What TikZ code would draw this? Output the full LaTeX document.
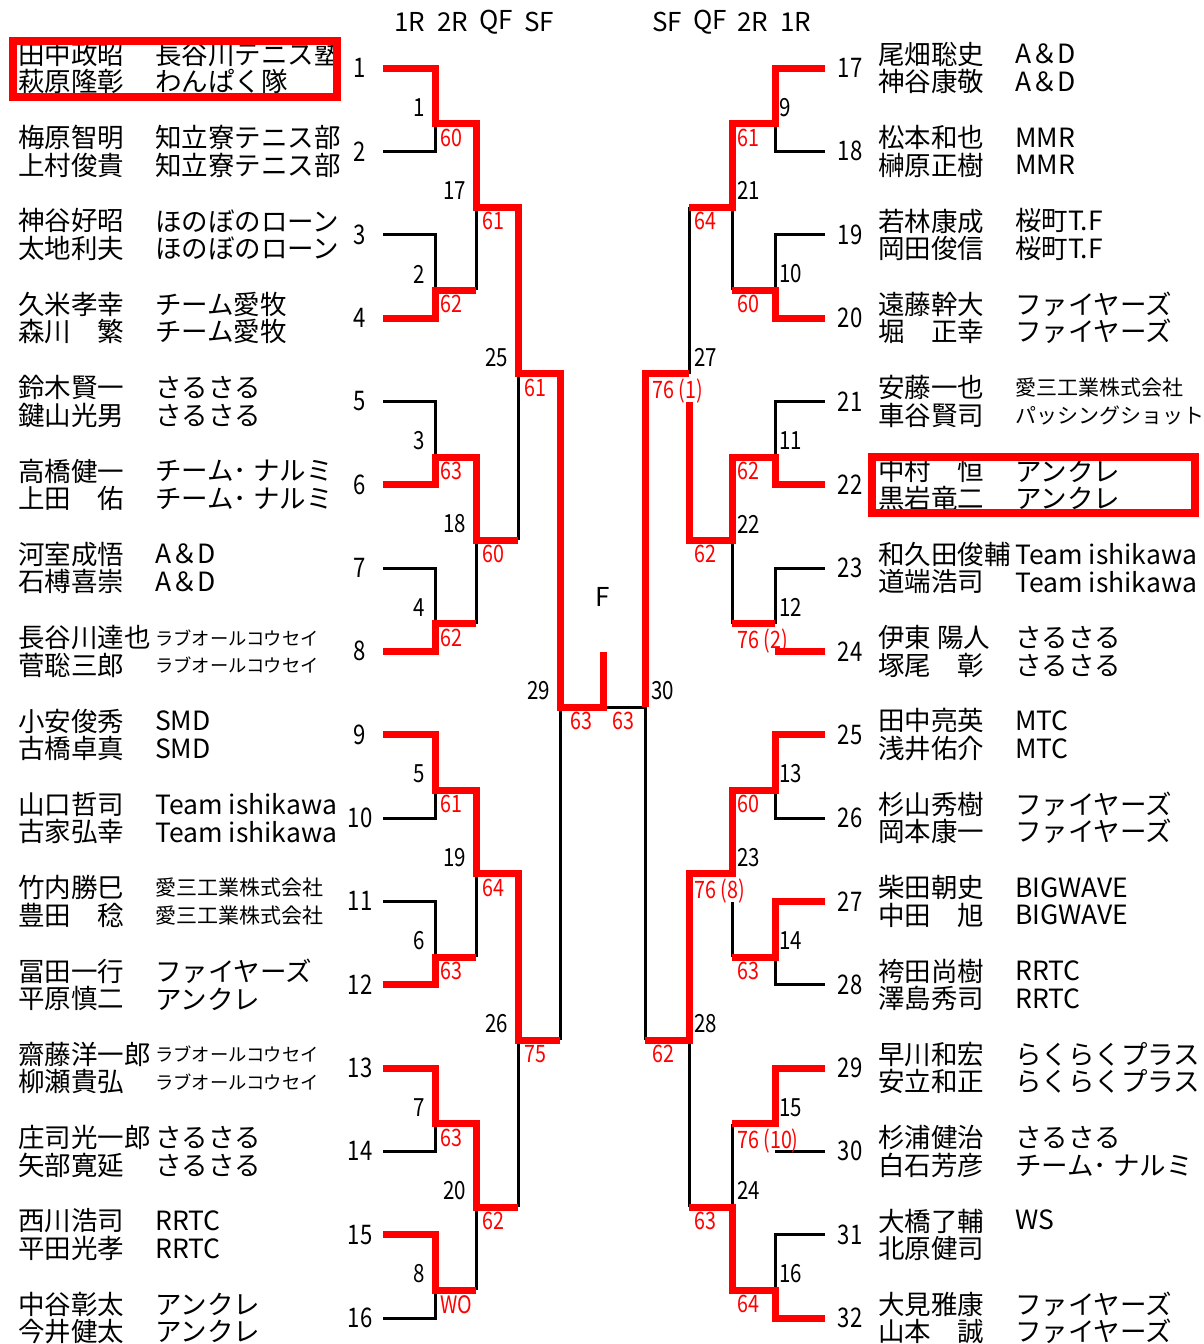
\documentclass[tikz,border=0pt]{standalone}
\usepackage{fontspec}
\setmainfont{Noto Sans CJK JP}
\newfontfamily\numfont[FakeStretch=0.82]{Noto Sans CJK JP}

\begin{document}
\begin{tikzpicture}[x=1pt, y=-1pt,
  win/.style={draw=red, line width=7pt},
  lose/.style={draw=black, line width=3pt},
  winbox/.style={draw=red, line width=7.5pt},
  pair/.style={anchor=west, align=left, inner sep=0pt,
    font=\fontsize{26.5}{27.5}\selectfont},
  midclub/.style={font=\fontsize{21}{27.5}\selectfont},
  smallclub/.style={font=\fontsize{18.3}{27.5}\selectfont},
  seed/.style={inner sep=0pt, font=\numfont\fontsize{27}{27}\selectfont},
  lmatch/.style={anchor=south east, inner sep=0pt,
    font=\numfont\fontsize{25}{25}\selectfont},
  rmatch/.style={anchor=south west, inner sep=0pt,
    font=\numfont\fontsize{25}{25}\selectfont},
  score/.style={anchor=north west, inner sep=0pt, text=red,
    font=\numfont\fontsize{24}{24}\selectfont},
  head/.style={inner sep=0pt, font=\fontsize{26}{26}\selectfont}]
  \useasboundingbox (0,0) rectangle (1203,1344);

  % round headings
  \node [head] (H1) at (410,22) {1R};
  \node [head, right of = H1, node distance = 43pt] (H2) {2R};
  \node [head, right of = H2, node distance = 43pt] (H3) {QF};
  \node [head, right of = H3, node distance = 43pt] (H4) {SF};
  \node [head] (H5) at (667,22) {SF};
  \node [head, right of = H5, node distance = 43pt] (H6) {QF};
  \node [head, right of = H6, node distance = 43pt] (H7) {2R};
  \node [head, right of = H7, node distance = 43pt] (H8) {1R};
  \node [head] (F) at (603,597) {F};

  % left half
  \node [pair] (N1) at (18,68) {田中政昭\\萩原隆彰};
  \node [pair] (C1) at (155,68) {長谷川テニス塾\\わんぱく隊};
  \node [seed] (S1) at (360,68) {1};
  \node [pair] (N2) at (18,151.3) {梅原智明\\上村俊貴};
  \node [pair] (C2) at (155,151.3) {知立寮テニス部\\知立寮テニス部};
  \node [seed] (S2) at (360,151.3) {2};
  \node [pair] (N3) at (18,234.7) {神谷好昭\\太地利夫};
  \node [pair] (C3) at (155,234.7) {ほのぼのローン\\ほのぼのローン};
  \node [seed] (S3) at (360,234.7) {3};
  \node [pair] (N4) at (18,318) {久米孝幸\\森川　繁};
  \node [pair] (C4) at (155,318) {チーム愛牧\\チーム愛牧};
  \node [seed] (S4) at (360,318) {4};
  \node [pair] (N5) at (18,401.3) {鈴木賢一\\鍵山光男};
  \node [pair] (C5) at (155,401.3) {さるさる\\さるさる};
  \node [seed] (S5) at (360,401.3) {5};
  \node [pair] (N6) at (18,484.7) {高橋健一\\上田　佑};
  \node [pair] (C6) at (155,484.7) {チーム･ ナルミ\\チーム･ ナルミ};
  \node [seed] (S6) at (360,484.7) {6};
  \node [pair] (N7) at (18,568) {河室成悟\\石榑喜崇};
  \node [pair] (C7) at (155,568) {A＆D\\A＆D};
  \node [seed] (S7) at (360,568) {7};
  \node [pair] (N8) at (18,651.3) {長谷川達也\\菅聡三郎};
  \node [pair, smallclub] (C8) at (155,651.3) {ラブオールコウセイ\\ラブオールコウセイ};
  \node [seed] (S8) at (360,651.3) {8};
  \node [pair] (N9) at (18,734.7) {小安俊秀\\古橋卓真};
  \node [pair] (C9) at (155,734.7) {SMD\\SMD};
  \node [seed] (S9) at (360,734.7) {9};
  \node [pair] (N10) at (18,818) {山口哲司\\古家弘幸};
  \node [pair] (C10) at (155,818) {Team ishikawa\\Team ishikawa};
  \node [seed] (S10) at (360,818) {10};
  \node [pair] (N11) at (18,901.3) {竹内勝巳\\豊田　稔};
  \node [pair, midclub] (C11) at (155,901.3) {愛三工業株式会社\\愛三工業株式会社};
  \node [seed] (S11) at (360,901.3) {11};
  \node [pair] (N12) at (18,984.7) {冨田一行\\平原慎二};
  \node [pair] (C12) at (155,984.7) {ファイヤーズ\\アンクレ};
  \node [seed] (S12) at (360,984.7) {12};
  \node [pair] (N13) at (18,1068) {齋藤洋一郎\\柳瀬貴弘};
  \node [pair, smallclub] (C13) at (155,1068) {ラブオールコウセイ\\ラブオールコウセイ};
  \node [seed] (S13) at (360,1068) {13};
  \node [pair] (N14) at (18,1151.3) {庄司光一郎\\矢部寛延};
  \node [pair] (C14) at (155,1151.3) {さるさる\\さるさる};
  \node [seed] (S14) at (360,1151.3) {14};
  \node [pair] (N15) at (18,1234.7) {西川浩司\\平田光孝};
  \node [pair] (C15) at (155,1234.7) {RRTC\\RRTC};
  \node [seed] (S15) at (360,1234.7) {15};
  \node [pair] (N16) at (18,1318) {中谷彰太\\今井健太};
  \node [pair] (C16) at (155,1318) {アンクレ\\アンクレ};
  \node [seed] (S16) at (360,1318) {16};

  % right half
  \node [pair] (N17) at (878,68) {尾畑聡史\\神谷康敬};
  \node [pair] (C17) at (1015,68) {A＆D\\A＆D};
  \node [seed] (S17) at (850,68) {17};
  \node [pair] (N18) at (878,151.3) {松本和也\\榊原正樹};
  \node [pair] (C18) at (1015,151.3) {MMR\\MMR};
  \node [seed] (S18) at (850,151.3) {18};
  \node [pair] (N19) at (878,234.7) {若林康成\\岡田俊信};
  \node [pair] (C19) at (1015,234.7) {桜町T.F\\桜町T.F};
  \node [seed] (S19) at (850,234.7) {19};
  \node [pair] (N20) at (878,318) {遠藤幹大\\堀　正幸};
  \node [pair] (C20) at (1015,318) {ファイヤーズ\\ファイヤーズ};
  \node [seed] (S20) at (850,318) {20};
  \node [pair] (N21) at (878,401.3) {安藤一也\\車谷賢司};
  \node [pair, midclub] (C21) at (1015,401.3) {愛三工業株式会社\\パッシングショット};
  \node [seed] (S21) at (850,401.3) {21};
  \node [pair] (N22) at (878,484.7) {中村　恒\\黒岩竜二};
  \node [pair] (C22) at (1015,484.7) {アンクレ\\アンクレ};
  \node [seed] (S22) at (850,484.7) {22};
  \node [pair] (N23) at (878,568) {和久田俊輔\\道端浩司};
  \node [pair] (C23) at (1015,568) {Team ishikawa\\Team ishikawa};
  \node [seed] (S23) at (850,568) {23};
  \node [pair] (N24) at (878,651.3) {伊東 陽人\\塚尾　彰};
  \node [pair] (C24) at (1015,651.3) {さるさる\\さるさる};
  \node [seed] (S24) at (850,651.3) {24};
  \node [pair] (N25) at (878,734.7) {田中亮英\\浅井佑介};
  \node [pair] (C25) at (1015,734.7) {MTC\\MTC};
  \node [seed] (S25) at (850,734.7) {25};
  \node [pair] (N26) at (878,818) {杉山秀樹\\岡本康一};
  \node [pair] (C26) at (1015,818) {ファイヤーズ\\ファイヤーズ};
  \node [seed] (S26) at (850,818) {26};
  \node [pair] (N27) at (878,901.3) {柴田朝史\\中田　旭};
  \node [pair] (C27) at (1015,901.3) {BIGWAVE\\BIGWAVE};
  \node [seed] (S27) at (850,901.3) {27};
  \node [pair] (N28) at (878,984.7) {袴田尚樹\\澤島秀司};
  \node [pair] (C28) at (1015,984.7) {RRTC\\RRTC};
  \node [seed] (S28) at (850,984.7) {28};
  \node [pair] (N29) at (878,1068) {早川和宏\\安立和正};
  \node [pair] (C29) at (1015,1068) {らくらくプラス\\らくらくプラス};
  \node [seed] (S29) at (850,1068) {29};
  \node [pair] (N30) at (878,1151.3) {杉浦健治\\白石芳彦};
  \node [pair] (C30) at (1015,1151.3) {さるさる\\チーム･ ナルミ};
  \node [seed] (S30) at (850,1151.3) {30};
  \node [pair] (N31) at (878,1234.7) {大橋了輔\\北原健司};
  \node [pair] (C31) at (1015,1234.7) {WS\\\phantom{北}};
  \node [seed] (S31) at (850,1234.7) {31};
  \node [pair] (N32) at (878,1318) {大見雅康\\山本　誠};
  \node [pair] (C32) at (1015,1318) {ファイヤーズ\\ファイヤーズ};
  \node [seed] (S32) at (850,1318) {32};

  % line ends of the draw
  \coordinate (e1) at (383,68);      \coordinate (e17) at (825,68);
  \coordinate (e2) at (383,151.3);   \coordinate (e18) at (825,151.3);
  \coordinate (e3) at (383,234.7);   \coordinate (e19) at (825,234.7);
  \coordinate (e4) at (383,318);     \coordinate (e20) at (825,318);
  \coordinate (e5) at (383,401.3);   \coordinate (e21) at (825,401.3);
  \coordinate (e6) at (383,484.7);   \coordinate (e22) at (825,484.7);
  \coordinate (e7) at (383,568);     \coordinate (e23) at (825,568);
  \coordinate (e8) at (383,651.3);   \coordinate (e24) at (825,651.3);
  \coordinate (e9) at (383,734.7);   \coordinate (e25) at (825,734.7);
  \coordinate (e10) at (383,818);    \coordinate (e26) at (825,818);
  \coordinate (e11) at (383,901.3);  \coordinate (e27) at (825,901.3);
  \coordinate (e12) at (383,984.7);  \coordinate (e28) at (825,984.7);
  \coordinate (e13) at (383,1068);   \coordinate (e29) at (825,1068);
  \coordinate (e14) at (383,1151.3); \coordinate (e30) at (825,1151.3);
  \coordinate (e15) at (383,1234.7); \coordinate (e31) at (825,1234.7);
  \coordinate (e16) at (383,1318);   \coordinate (e32) at (825,1318);

  % match points
  \coordinate (m1) at (435,123.7);  \coordinate (m9) at (775,123.7);
  \coordinate (m2) at (435,290.3);  \coordinate (m10) at (775,290.3);
  \coordinate (m3) at (435,457);    \coordinate (m11) at (775,457);
  \coordinate (m4) at (435,623.7);  \coordinate (m12) at (775,623.7);
  \coordinate (m5) at (435,790.3);  \coordinate (m13) at (775,790.3);
  \coordinate (m6) at (435,957);    \coordinate (m14) at (775,957);
  \coordinate (m7) at (435,1123.7); \coordinate (m15) at (775,1123.7);
  \coordinate (m8) at (435,1290.3); \coordinate (m16) at (775,1290.3);
  \coordinate (m17) at (476,207);   \coordinate (m21) at (732,207);
  \coordinate (m18) at (476,540.3); \coordinate (m22) at (732,540.3);
  \coordinate (m19) at (476,873.7); \coordinate (m23) at (732,873.7);
  \coordinate (m20) at (476,1207);  \coordinate (m24) at (732,1207);
  \coordinate (m25) at (518,373.7); \coordinate (m27) at (689,373.7);
  \coordinate (m26) at (518,1040.3);\coordinate (m28) at (689,1040.3);
  \coordinate (m29) at (560,707);   \coordinate (m30) at (645,707);
  \coordinate (fc) at (603,707);    \coordinate (f) at (603,652);

  % lost lines
  \draw [lose] (e2) -| (m1);   \draw [lose] (e3) -| (m2);
  \draw [lose] (e5) -| (m3);   \draw [lose] (e7) -| (m4);
  \draw [lose] (e10) -| (m5);  \draw [lose] (e11) -| (m6);
  \draw [lose] (e14) -| (m7);  \draw [lose] (e16) -| (m8);
  \draw [lose] (e18) -| (m9);  \draw [lose] (e19) -| (m10);
  \draw [lose] (e21) -| (m11); \draw [lose] (e23) -| (m12);
  \draw [lose] (e26) -| (m13); \draw [lose] (e28) -| (m14);
  \draw [lose] (e30) -- (e30 -| m15);
  \draw [lose] (e31) -| (m16);
  \draw [lose] (m2 -| m17) -- (m17);  \draw [lose] (m4 -| m18) -- (m18);
  \draw [lose] (m6 -| m19) -- (m19);  \draw [lose] (m8 -| m20) -- (m20);
  \draw [lose] (m10 -| m21) -- (m21); \draw [lose] (m12 -| m22) -- (m22);
  \draw [lose] (m14 -| m23) -- ++(0,-55);
  \draw [lose] (m15 -| m24) -- (m24);
  \draw [lose] (m18 -| m25) -- (m25); \draw [lose] (m20 -| m26) -- (m26);
  \draw [lose] (m21 -| m27) -- (m27); \draw [lose] (m24 -| m28) -- (m28);
  \draw [lose] (m26 -| m29) -- (m29); \draw [lose] (m28 -| m30) -- (m30);
  \draw [lose] (m30) -- (fc);

  % won lines
  \draw [win] (e1) -| (m1) -| (m17) -| (m25) -| (m29) -- (fc) -- (f);
  \draw [win] (e4) -| (m2) -- (m2 -| m17);
  \draw [win] (e6) -| (m3) -| (m18) -- (m18 -| m25);
  \draw [win] (e8) -| (m4) -- (m4 -| m18);
  \draw [win] (e9) -| (m5) -| (m19) -| (m26) -- (m26 -| m29);
  \draw [win] (e12) -| (m6) -- (m6 -| m19);
  \draw [win] (e13) -| (m7) -| (m20) -- (m20 -| m26);
  \draw [win] (e15) -| (m8) -- (m8 -| m20);
  \draw [win] (e17) -| (m9) -| (m21) -- (m21 -| m27);
  \draw [win] (e20) -| (m10) -- (m10 -| m21);
  \draw [win] (e22) -| (m11) -| (m22) -- (m22 -| m27) -- ++(0,-138);
  \draw [win] (m27) -| (m30);
  \draw [win] (e24) -- (e24 -| m12);
  \draw [win] (m12) -- (m12 -| m22);
  \draw [win] (e25) -| (m13) -| (m23) -| (m28) -- (m28 -| m30);
  \draw [win] (e27) -| (m14) -- (m14 -| m23);
  \draw [win] (e29) -| (m15) -- (m15 -| m24);
  \draw [win] (e32) -| (m16) -| (m24) -- (m24 -| m28);

  % match numbers
  \node [lmatch] (M1) at ([shift={(-10,-7)}]m1) {1};
  \node [lmatch] (M2) at ([shift={(-10,-7)}]m2) {2};
  \node [lmatch] (M3) at ([shift={(-10,-7)}]m3) {3};
  \node [lmatch] (M4) at ([shift={(-10,-7)}]m4) {4};
  \node [lmatch] (M5) at ([shift={(-10,-7)}]m5) {5};
  \node [lmatch] (M6) at ([shift={(-10,-7)}]m6) {6};
  \node [lmatch] (M7) at ([shift={(-10,-7)}]m7) {7};
  \node [lmatch] (M8) at ([shift={(-10,-7)}]m8) {8};
  \node [rmatch] (M9) at ([shift={(4,-7)}]m9) {9};
  \node [rmatch] (M10) at ([shift={(4,-7)}]m10) {10};
  \node [rmatch] (M11) at ([shift={(4,-7)}]m11) {11};
  \node [rmatch] (M12) at ([shift={(4,-7)}]m12) {12};
  \node [rmatch] (M13) at ([shift={(4,-7)}]m13) {13};
  \node [rmatch] (M14) at ([shift={(4,-7)}]m14) {14};
  \node [rmatch] (M15) at ([shift={(4,-7)}]m15) {15};
  \node [rmatch] (M16) at ([shift={(4,-7)}]m16) {16};
  \node [lmatch] (M17) at ([shift={(-10,-7)}]m17) {17};
  \node [lmatch] (M18) at ([shift={(-10,-7)}]m18) {18};
  \node [lmatch] (M19) at ([shift={(-10,-7)}]m19) {19};
  \node [lmatch] (M20) at ([shift={(-10,-7)}]m20) {20};
  \node [rmatch] (M21) at ([shift={(5,-7)}]m21) {21};
  \node [rmatch] (M22) at ([shift={(5,-7)}]m22) {22};
  \node [rmatch] (M23) at ([shift={(5,-7)}]m23) {23};
  \node [rmatch] (M24) at ([shift={(5,-7)}]m24) {24};
  \node [lmatch] (M25) at ([shift={(-10,-7)}]m25) {25};
  \node [lmatch] (M26) at ([shift={(-10,-7)}]m26) {26};
  \node [rmatch] (M27) at ([shift={(5,-7)}]m27) {27};
  \node [rmatch] (M28) at ([shift={(5,-7)}]m28) {28};
  \node [lmatch] (M29) at ([shift={(-10,-7)}]m29) {29};
  \node [rmatch] (M30) at ([shift={(6,-7)}]m30) {30};

  % scores
  \node [score] (R1) at ([shift={(5,5)}]m1) {60};
  \node [score] (R2) at ([shift={(5,5)}]m2) {62};
  \node [score] (R3) at ([shift={(5,5)}]m3) {63};
  \node [score] (R4) at ([shift={(5,5)}]m4) {62};
  \node [score] (R5) at ([shift={(5,5)}]m5) {61};
  \node [score] (R6) at ([shift={(5,5)}]m6) {63};
  \node [score] (R7) at ([shift={(5,5)}]m7) {63};
  \node [score] (R8) at ([shift={(5,5)}]m8) {WO};
  \node [score] (R9) at ([shift={(-38,5)}]m9) {61};
  \node [score] (R10) at ([shift={(-38,5)}]m10) {60};
  \node [score] (R11) at ([shift={(-38,5)}]m11) {62};
  \node [score] (R12) at ([shift={(-38,5)}]m12) {76 (2)};
  \node [score] (R13) at ([shift={(-38,5)}]m13) {60};
  \node [score] (R14) at ([shift={(-38,5)}]m14) {63};
  \node [score] (R15) at ([shift={(-38,5)}]m15) {76 (10)};
  \node [score] (R16) at ([shift={(-38,5)}]m16) {64};
  \node [score] (R17) at ([shift={(6,5)}]m17) {61};
  \node [score] (R18) at ([shift={(6,5)}]m18) {60};
  \node [score] (R19) at ([shift={(6,5)}]m19) {64};
  \node [score] (R20) at ([shift={(6,5)}]m20) {62};
  \node [score] (R21) at ([shift={(-38,5)}]m21) {64};
  \node [score] (R22) at ([shift={(-38,5)}]m22) {62};
  \node [score] (R23) at ([shift={(-38,5)}]m23) {76 (8)};
  \node [score] (R24) at ([shift={(-38,5)}]m24) {63};
  \node [score] (R25) at ([shift={(6,5)}]m25) {61};
  \node [score] (R26) at ([shift={(6,5)}]m26) {75};
  \node [score] (R27) at ([shift={(-37,5)}]m27) {76 (1)};
  \node [score] (R28) at ([shift={(-37,5)}]m28) {62};
  \node [score] (R29) at ([shift={(10,5)}]m29) {63};
  \node [score] (R30) at ([shift={(9,5)}]fc) {63};

  % winners
  \draw [winbox] (13,41) rectangle (337,97);
  \draw [winbox] (872,457) rectangle (1195,513);
\end{tikzpicture}
\end{document}
